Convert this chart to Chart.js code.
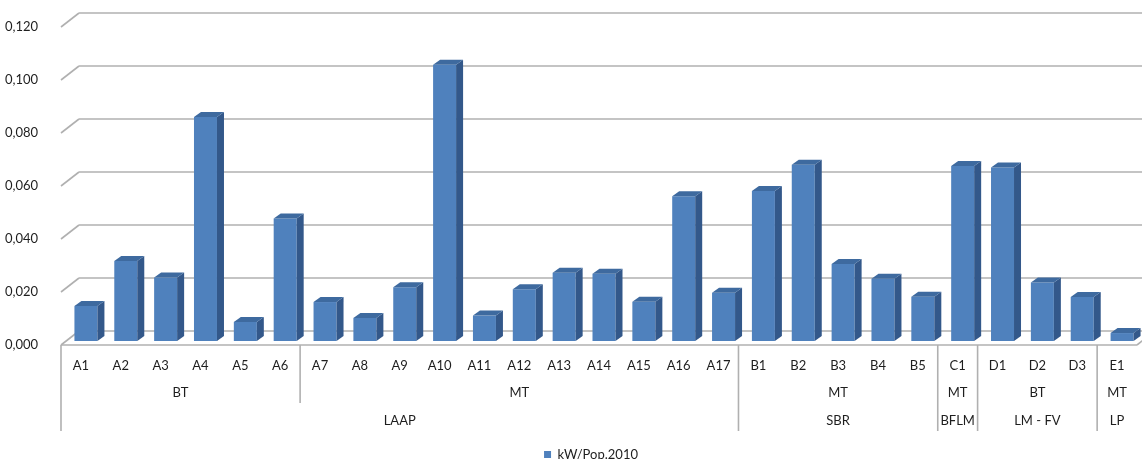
<!DOCTYPE html>
<html>
<head>
<meta charset="utf-8">
<script src="https://cdn.jsdelivr.net/npm/chart.js@4.4.0/dist/chart.umd.min.js"></script>
<style>
  html, body { margin: 0; padding: 0; background: #ffffff; overflow: hidden; }
  #wrap { width: 1142px; height: 459px; }
</style>
</head>
<body>
<div id="wrap"><canvas id="chart" width="1142" height="459"></canvas></div>
<script>
// Installed power per inhabitant, by substation
const categories = ['A1', 'A2', 'A3', 'A4', 'A5', 'A6', 'A7', 'A8', 'A9', 'A10', 'A11', 'A12', 'A13', 'A14',
  'A15', 'A16', 'A17', 'B1', 'B2', 'B3', 'B4', 'B5', 'C1', 'D1', 'D2', 'D3', 'E1'];
const values = [0.0132, 0.0302, 0.0240, 0.0845, 0.0072, 0.0462, 0.0147, 0.0087, 0.0203, 0.1042, 0.0096, 0.0195,
  0.0258, 0.0254, 0.0148, 0.0546, 0.0182, 0.0566, 0.0665, 0.0291, 0.0235, 0.0167, 0.0660, 0.0655, 0.0221,
  0.0166, 0.0030];
const seriesName = 'kW/Pop.2010';

// Voltage level groups (second row) and network groups (third row)
const tierLabels = ['BT', 'MT', 'MT', 'MT', 'BT', 'MT'];
const tierSpans = [6, 11, 5, 1, 3, 1];
const zoneLabels = ['LAAP', 'SBR', 'BFLM', 'LM - FV', 'LP'];
const zoneSpans = [17, 5, 1, 3, 1];

// Value axis
const yMin = 0;
const yMax = 0.12;
const yStep = 0.02;

// Oblique depth: the bars sit between the front (label) plane and the back wall
const FRONT = { dx: -5, dy: 4 };
const BACK = { dx: 13, dy: -10 };
const BAR_DEPTH = { dx: 7, dy: -5 };

const FONT = { family: 'Lato, "Open Sans", sans-serif', size: 13 };
const TEXT = '#1e1e1e';
const GRID = '#b0b0b0';
const BAR_FRONT = '#4f81bd';
const BAR_TOP = '#3e6a9f';
const BAR_SIDE = '#33588a';

const PAD = { left: 40, top: 23, right: 0, bottom: -12 };
const PLOT_BOTTOM = 341;

function line(ctx, x1, y1, x2, y2) {
  ctx.beginPath();
  ctx.moveTo(x1, y1);
  ctx.lineTo(x2, y2);
  ctx.stroke();
}

const obliquePlugin = {
  id: 'oblique',
  afterLayout(chart) {
    // let the value labels use the whole left margin
    const y = chart.scales.y;
    y.left = 0;
    y.width = y.right;
  },
  beforeDatasetsDraw(chart) {
    const ctx = chart.ctx;
    const y = chart.scales.y;
    const L = chart.chartArea.left, R = chart.chartArea.right;
    ctx.save();
    ctx.strokeStyle = GRID;
    ctx.lineWidth = 1.6;
    // back-wall gridlines with their slanted lead-ins
    for (let v = yMin; v <= yMax + 1e-9; v += yStep) {
      const py = y.getPixelForValue(v);
      line(ctx, L + BACK.dx, py + BACK.dy, R + BACK.dx + 40, py + BACK.dy);
      line(ctx, L + FRONT.dx, py + FRONT.dy, L + BACK.dx, py + BACK.dy);
    }
    // floor front edge and right edge
    const p0 = y.getPixelForValue(0);
    line(ctx, L + FRONT.dx, p0 + FRONT.dy, R + FRONT.dx, p0 + FRONT.dy);
    line(ctx, R + FRONT.dx, p0 + FRONT.dy, R + BACK.dx, p0 + BACK.dy);
    ctx.restore();
  },
  afterDatasetsDraw(chart) {
    const ctx = chart.ctx;
    const meta = chart.getDatasetMeta(0);
    ctx.save();
    meta.data.forEach(bar => {
      const p = bar.getProps(['x', 'y', 'base', 'width'], true);
      const l = p.x - p.width / 2, r = p.x + p.width / 2;
      // side face
      ctx.fillStyle = BAR_SIDE;
      ctx.beginPath();
      ctx.moveTo(r, p.y);
      ctx.lineTo(r + BAR_DEPTH.dx, p.y + BAR_DEPTH.dy);
      ctx.lineTo(r + BAR_DEPTH.dx, p.base + BAR_DEPTH.dy);
      ctx.lineTo(r, p.base);
      ctx.closePath();
      ctx.fill();
      // top face
      ctx.fillStyle = BAR_TOP;
      ctx.beginPath();
      ctx.moveTo(l, p.y);
      ctx.lineTo(l + BAR_DEPTH.dx, p.y + BAR_DEPTH.dy);
      ctx.lineTo(r + BAR_DEPTH.dx, p.y + BAR_DEPTH.dy);
      ctx.lineTo(r, p.y);
      ctx.closePath();
      ctx.fill();
    });
    ctx.restore();
  },
  afterDraw(chart) {
    const ctx = chart.ctx;
    const x = chart.scales.x, y = chart.scales.y;
    const floorY = y.getPixelForValue(0) + FRONT.dy;
    const edge = k => x.getPixelForValue(k - 0.5) + FRONT.dx;
    const row2 = 393, row3 = 421, tierBottom = 403, zoneBottom = 431;
    ctx.save();
    ctx.strokeStyle = GRID;
    ctx.lineWidth = 1.6;
    // zone boundaries run through all label rows
    const zoneEdges = new Set([0]);
    let k = 0;
    zoneSpans.forEach(s => { k += s; zoneEdges.add(k); });
    zoneEdges.forEach(e => { if (e < categories.length) line(ctx, edge(e), floorY, edge(e), zoneBottom); });
    // tier boundaries inside a zone stop above the zone row
    k = 0;
    tierSpans.forEach(s => {
      k += s;
      if (!zoneEdges.has(k)) line(ctx, edge(k), floorY, edge(k), tierBottom);
    });
    // group captions
    ctx.fillStyle = TEXT;
    ctx.font = `${FONT.size}px ${FONT.family}`;
    ctx.textAlign = 'center';
    ctx.textBaseline = 'middle';
    k = 0;
    tierSpans.forEach((s, i) => {
      ctx.fillText(tierLabels[i], (edge(k) + edge(k + s)) / 2, row2);
      k += s;
    });
    k = 0;
    zoneSpans.forEach((s, i) => {
      ctx.fillText(zoneLabels[i], (edge(k) + edge(k + s)) / 2, row3);
      k += s;
    });
    ctx.restore();
  }
};

new Chart(document.getElementById('chart'), {
  type: 'bar',
  data: {
    labels: categories,
    datasets: [{
      label: seriesName,
      data: values,
      backgroundColor: BAR_FRONT,
      borderWidth: 0,
      categoryPercentage: 1,
      barPercentage: 0.577
    }]
  },
  options: {
    responsive: false,
    devicePixelRatio: 1,
    animation: false,
    layout: { padding: PAD },
    plugins: {
      tooltip: { enabled: false },
      legend: {
        position: 'bottom',
        labels: {
          boxWidth: 7,
          boxHeight: 7,
          padding: 2,
          color: TEXT,
          font: FONT
        }
      }
    },
    scales: {
      x: {
        grid: { display: false },
        border: { display: false },
        ticks: {
          autoSkip: false,
          maxRotation: 0,
          minRotation: 0,
          labelOffset: FRONT.dx,
          padding: 9,
          color: TEXT,
          font: FONT
        },
        afterFit(scale) {
          const legendH = scale.chart.legend ? scale.chart.legend.height : 0;
          scale.height = scale.chart.height - PAD.bottom - PLOT_BOTTOM - legendH;
          scale.paddingLeft = 0;
          scale.paddingRight = 0;
        }
      },
      y: {
        min: yMin,
        max: yMax,
        grid: { display: false },
        border: { display: false },
        ticks: {
          stepSize: yStep,
          padding: 20,
          labelOffset: FRONT.dy,
          color: TEXT,
          font: FONT,
          callback: v => v.toFixed(3).replace('.', ',')
        },
        afterFit(scale) {
          scale.width = 26;
          scale.paddingTop = 0;
          scale.paddingBottom = 0;
        }
      }
    }
  },
  plugins: [obliquePlugin]
});
</script>
</body>
</html>
